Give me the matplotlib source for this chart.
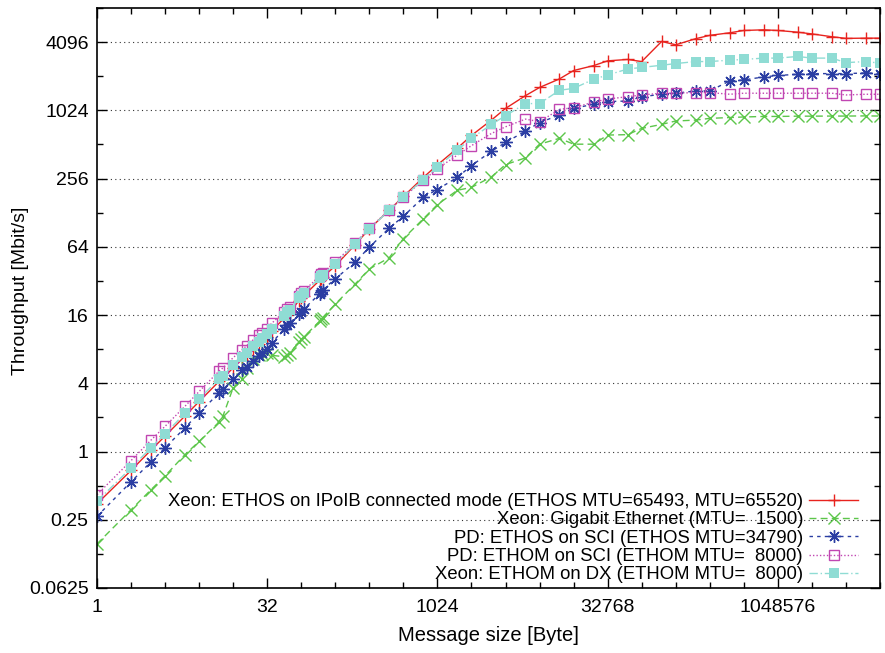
import matplotlib.pyplot as plt
from matplotlib.ticker import FixedLocator, FixedFormatter, NullFormatter

plt.rcParams['font.family'] = ['Liberation Sans', 'DejaVu Sans']

# message sizes [Byte] (NetPIPE style, +-3 perturbations only where visible)
sizes = [1, 2, 3, 4, 6, 8, 12, 13, 16, 19, 21, 24, 27, 29, 32, 35, 45, 48, 51,
         61, 64, 67, 93, 96, 99, 128, 192, 256, 384, 512, 768, 1024, 1536,
         2048, 3072, 4096, 6144, 8192, 12288, 16384, 24576, 32768, 49152,
         65536, 98304, 131072, 196608, 262144, 393216, 524288, 786432,
         1048576, 1572864, 2097152, 3145728, 4194304, 6291456, 8388608]

# throughput [Mbit/s]
xeon_ipoib = [0.346, 0.681, 1.03, 1.37, 2.06, 2.76, 4.16, 4.43, 5.49, 6.43, 7.09,
              8.04, 8.85, 9.49, 10.3, 11.5, 15.0, 16.1, 16.9, 21.5, 22.6, 23.6,
              32.4, 33.5, 34.5, 43.5, 67, 92, 135, 178, 262, 338, 475, 615, 840,
              1065, 1380, 1630, 1940, 2300, 2540, 2800, 2880, 2760, 4150, 3880,
              4390, 4700, 4950, 5190, 5260, 5190, 5010, 4840, 4570, 4420, 4440,
              4440]
xeon_gige = [0.153, 0.306, 0.46, 0.61, 0.94, 1.23, 1.82, 2.06, 3.66, 4.35, 5.46,
             6.5, 7.06, 7.21, 7.46, 7.06, 6.87, 7.06, 7.46, 9.19, 9.78, 10.2,
             14.1, 14.7, 15.2, 20.0, 30.1, 40.8, 51.3, 75.6, 113, 151, 202, 214,
             265, 340, 390, 515, 580, 515, 515, 620, 625, 710, 770, 825, 840,
             870, 885, 895, 905, 905, 910, 910, 912, 912, 915, 912]
pd_ethos_sci = [0.268, 0.54, 0.81, 1.08, 1.62, 2.19, 3.29, 3.53, 4.35, 5.21, 5.62,
                6.32, 6.92, 7.36, 8.11, 9.06, 12.0, 13.0, 13.7, 16.2, 16.9, 18.0,
                24.6, 25.8, 26.7, 33.4, 46.9, 63.6, 93.7, 119, 175, 205, 263, 333,
                446, 533, 672, 800, 930, 1065, 1160, 1225, 1237, 1350, 1420, 1450,
                1520, 1520, 1860, 1900, 2020, 2080, 2130, 2160, 2160, 2160, 2190,
                2160]
pd_ethom_sci = [0.416, 0.832, 1.26, 1.67, 2.51, 3.39, 5.13, 5.46, 6.73, 7.84, 8.57,
                9.65, 10.6, 11.2, 12.1, 13.5, 17.1, 18.1, 19.0, 23.8, 24.9, 26.0,
                35.3, 36.5, 37.5, 46.9, 69.6, 93.7, 135, 176, 247, 313, 413, 500,
                640, 733, 857, 813, 1045, 1080, 1210, 1290, 1350, 1400, 1450, 1450,
                1470, 1470, 1420, 1450, 1450, 1450, 1450, 1450, 1450, 1400, 1420,
                1420]
xeon_ethom_dx = [0.364, 0.717, 1.08, 1.44, 2.17, 2.91, 4.38, 4.66, 5.78, 6.77, 7.46,
                 8.46, 9.32, 9.99, 10.85, 12.1, 15.8, 16.9, 17.8, 22.6, 23.8, 24.8,
                 34.1, 35.3, 36.3, 45.3, 68.1, 92.4, 134, 176, 251, 324, 455, 580,
                 770, 918, 1175, 1175, 1540, 1600, 1925, 2100, 2370, 2450, 2560,
                 2650, 2760, 2760, 2840, 2880, 2960, 2960, 3060, 2960, 2960, 2700,
                 2760, 2670]

labels = ["Xeon: ETHOS on IPoIB connected mode (ETHOS MTU=65493, MTU=65520)",
          "Xeon: Gigabit Ethernet (MTU=  1500)",
          "PD: ETHOS on SCI (ETHOS MTU=34790)",
          "PD: ETHOM on SCI (ETHOM MTU=  8000)",
          "Xeon: ETHOM on DX (ETHOM MTU=  8000)"]

x_ticks = [1, 32, 1024, 32768, 1048576]
y_ticks = [0.0625, 0.25, 1, 4, 16, 64, 256, 1024, 4096]

fig = plt.figure(figsize=(8.85, 6.53), dpi=100)
ax = fig.add_axes([97 / 885, 65 / 653, 783 / 885, 580 / 653])

ax.plot(sizes, xeon_ipoib, color='#e8231e', lw=1, ls='-', marker='+',
        ms=9, mew=1, label=labels[0])
ax.plot(sizes, xeon_gige, color='#5cc64a', lw=1, ls=(0, (5, 3)), marker='x',
        ms=8, mew=1, label=labels[1])
ax.plot(sizes, pd_ethos_sci, color='#2b3ea3', lw=1, ls=(0, (2.5, 3)),
        marker=(8, 2, 0), ms=9, mew=1, label=labels[2])
ax.plot(sizes, pd_ethom_sci, color='#c146b2', lw=1, ls=(0, (1, 1.5)), marker='s',
        ms=7, mew=1, mfc='none', label=labels[3])
ax.plot(sizes, xeon_ethom_dx, color='#8fdcd4', lw=1, ls=(0, (6, 2, 1, 2)),
        marker='s', ms=7, mew=0, label=labels[4])

ax.set_xscale('log', base=2)
ax.set_yscale('log', base=2)
ax.set_xlim(1, 8388608)
ax.set_ylim(0.0625, 8192)

ax.xaxis.set_major_locator(FixedLocator(x_ticks))
ax.xaxis.set_major_formatter(FixedFormatter([str(v) for v in x_ticks]))
ax.xaxis.set_minor_locator(FixedLocator([2 ** i for i in range(24)]))
ax.xaxis.set_minor_formatter(NullFormatter())
ax.yaxis.set_major_locator(FixedLocator(y_ticks))
ax.yaxis.set_major_formatter(FixedFormatter([str(v) for v in y_ticks]))
ax.yaxis.set_minor_locator(FixedLocator([2.0 ** i for i in range(-4, 14)]))
ax.yaxis.set_minor_formatter(NullFormatter())

ax.tick_params(which='both', direction='in', top=True, right=True,
               labelsize=14, width=1)
ax.tick_params(which='major', length=7)
ax.tick_params(axis='x', which='major', pad=8)
ax.tick_params(axis='y', which='major', pad=6)
ax.tick_params(which='minor', length=4)
ax.yaxis.grid(True, which='major', linestyle=(0, (1, 3)), color='#333333', lw=0.8)
for s in ax.spines.values():
    s.set_linewidth(1.2)

ax.set_xlabel("Message size [Byte]", fontsize=14.5)
ax.set_ylabel("Throughput [Mbit/s]", fontsize=14)
ax.xaxis.set_label_coords(0.5, -0.066)
ax.yaxis.set_label_coords(-0.087, 0.512)

ax.legend(loc='lower right', bbox_to_anchor=(0.9725, 0.008), markerfirst=False,
          frameon=False, fontsize=13.3, handlelength=2.7, handletextpad=0.3,
          labelspacing=0.07, borderpad=0, borderaxespad=0)

fig.savefig('out.png', dpi=100)
